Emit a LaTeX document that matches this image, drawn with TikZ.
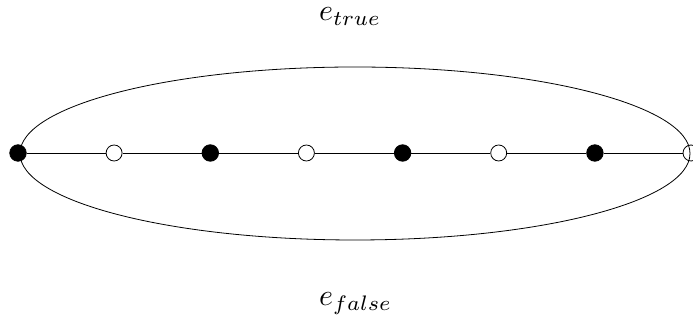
\documentclass[tikz,border=0pt]{standalone}
\tikzset{
  full/.style={circle,fill=black,draw=black,inner sep=0pt,minimum size=16.5pt},
  hollow/.style={circle,draw=black,fill=none,inner sep=0pt,minimum size=16pt},
  lbl/.style={scale=3,inner sep=0pt,anchor=base west}
}
\begin{document}
\begin{tikzpicture}[x=1pt,y=1pt,line width=0.8pt]
\useasboundingbox (0,0) rectangle (693,320);
% ellipse
\draw (355,166.5) ellipse [x radius=335, y radius=86.5];
% dots
\node[full]   (d0) at (18,167) {};
\node[hollow] (d1) at (114.1,167) {};
\node[full]   (d2) at (210.3,167) {};
\node[hollow] (d3) at (306.4,167) {};
\node[full]   (d4) at (402.6,167) {};
\node[hollow] (d5) at (498.7,167) {};
\node[full]   (d6) at (594.9,167) {};
\node[hollow] (d7) at (691,167) {};
\draw (d0) -- (d1) -- (d2) -- (d3) -- (d4) -- (d5) -- (d6) -- (d7);
% labels
\node[lbl] (t) at (318,299) {$e_{true}$};
\node[lbl] (f) at (318,14) {$e_{false}$};
\end{tikzpicture}
\end{document}
